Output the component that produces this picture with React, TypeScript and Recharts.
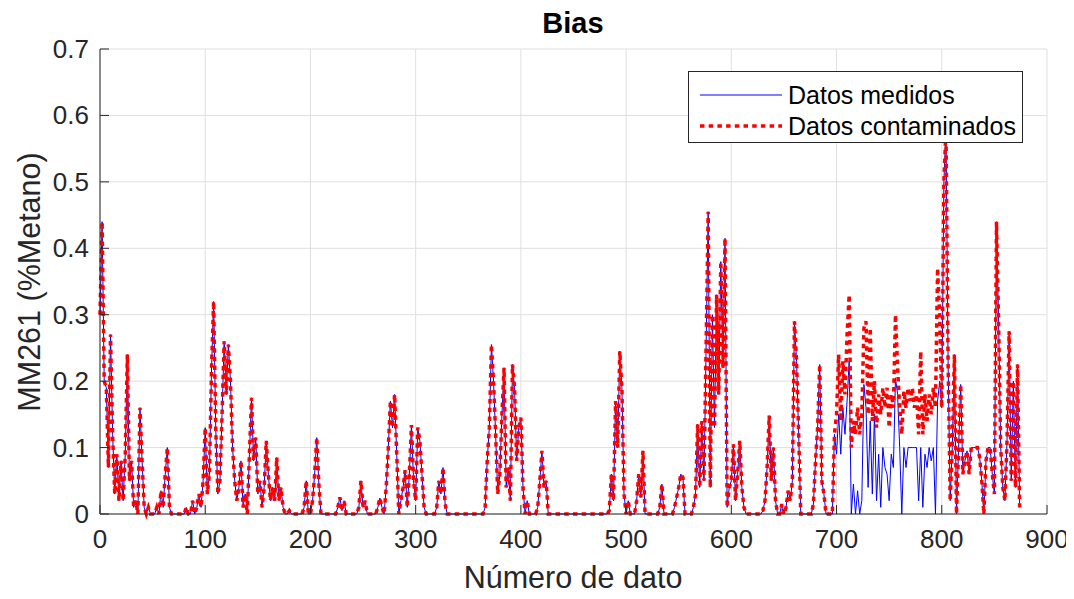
import React from 'react';
import { LineChart, Line, XAxis, YAxis, CartesianGrid, Legend } from 'recharts';

const xTicks = [0, 100, 200, 300, 400, 500, 600, 700, 800, 900];
const yTicks = [0, 0.1, 0.2, 0.3, 0.4, 0.5, 0.6, 0.7];
const titulo = 'Bias';
const etiquetaX = 'Número de dato';
const etiquetaY = 'MM261 (%Metano)';
const nombreMedidos = 'Datos medidos';
const nombreContaminados = 'Datos contaminados';

// data number step between stored samples
const PASO = 2;

// "Datos medidos": samples at data number 0, 2, 4, ... (rows of 10 = 20 data numbers)
const medidos = [
  0.3, 0.44, 0.2, 0.19, 0.07, 0.27, 0.12, 0.03, 0.09, 0.02,
  0.08, 0.02, 0.09, 0.24, 0.05, 0.08, 0.01, 0.02, 0.0, 0.16,
  0.08, 0.01, 0.0, 0.01, 0.0, 0.0, 0.0, 0.01, 0.0, 0.035,
  0.01, 0.06, 0.1, 0.01, 0.0, 0.0, 0.0, 0.0, 0.0, 0.0,
  0.0, 0.01, 0.0, 0.0, 0.02, 0.0, 0.01, 0.03, 0.01, 0.05,
  0.13, 0.03, 0.06, 0.22, 0.32, 0.13, 0.03, 0.05, 0.15, 0.26,
  0.18, 0.255, 0.2, 0.1, 0.05, 0.02, 0.04, 0.08, 0.01, 0.03,
  0.0, 0.09, 0.175, 0.08, 0.115, 0.03, 0.05, 0.01, 0.04, 0.11,
  0.06, 0.02, 0.04, 0.02, 0.085, 0.02, 0.04, 0.01, 0.0, 0.0,
  0.005, 0.0, 0.0, 0.0, 0.0, 0.0, 0.0, 0.01, 0.05, 0.0,
  0.0, 0.02, 0.06, 0.115, 0.045, 0.0, 0.0, 0.0, 0.0, 0.0,
  0.0, 0.0, 0.0, 0.01, 0.025, 0.005, 0.02, 0.0, 0.0, 0.0,
  0.0, 0.0, 0.0, 0.01, 0.05, 0.01, 0.02, 0.0, 0.0, 0.0,
  0.0, 0.0, 0.01, 0.024, 0.01, 0.0, 0.04, 0.1, 0.17, 0.13,
  0.18, 0.09, 0.0, 0.02, 0.04, 0.066, 0.01, 0.06, 0.134, 0.05,
  0.02, 0.13, 0.11, 0.06, 0.01, 0.0, 0.0, 0.0, 0.0, 0.0,
  0.01, 0.05, 0.03, 0.07, 0.015, 0.0, 0.0, 0.0, 0.0, 0.0,
  0.0, 0.0, 0.0, 0.0, 0.0, 0.0, 0.0, 0.0, 0.0, 0.0,
  0.0, 0.0, 0.0, 0.01, 0.08, 0.13, 0.255, 0.2, 0.12, 0.03,
  0.06, 0.15, 0.22, 0.04, 0.07, 0.02, 0.225, 0.19, 0.08, 0.13,
  0.145, 0.04, 0.0, 0.02, 0.0, 0.0, 0.0, 0.0, 0.01, 0.05,
  0.095, 0.04, 0.05, 0.0, 0.0, 0.0, 0.0, 0.0, 0.0, 0.0,
  0.0, 0.0, 0.0, 0.0, 0.0, 0.0, 0.0, 0.0, 0.0, 0.0,
  0.0, 0.0, 0.0, 0.0, 0.0, 0.0, 0.0, 0.0, 0.0, 0.0,
  0.0, 0.0, 0.005, 0.06, 0.02, 0.17, 0.1, 0.245, 0.19, 0.03,
  0.0, 0.02, 0.0, 0.0, 0.0, 0.02, 0.06, 0.025, 0.095, 0.0,
  0.0, 0.0, 0.0, 0.0, 0.0, 0.0, 0.01, 0.045, 0.0, 0.0,
  0.0, 0.0, 0.0, 0.01, 0.025, 0.04, 0.06, 0.055, 0.0, 0.0,
  0.0, 0.0, 0.01, 0.03, 0.135, 0.04, 0.14, 0.05, 0.25, 0.455,
  0.04, 0.3, 0.13, 0.33, 0.18, 0.38, 0.22, 0.415, 0.01, 0.04,
  0.05, 0.105, 0.02, 0.06, 0.11, 0.04, 0.01, 0.0, 0.0, 0.0,
  0.0, 0.0, 0.0, 0.0, 0.0, 0.005, 0.02, 0.07, 0.148, 0.05,
  0.1, 0.02, 0.0, 0.0, 0.015, 0.0, 0.01, 0.035, 0.02, 0.05,
  0.29, 0.23, 0.12, 0.0, 0.0, 0.0, 0.0, 0.0, 0.0, 0.015,
  0.08, 0.13, 0.225, 0.05, 0.03, 0.0, 0.0, 0.0, 0.0, 0.12,
  0.09, 0.15, 0.09, 0.16, 0.12, 0.17, 0.23, 0.0, 0.045, 0.0,
  0.035, 0.0, 0.02, 0.195, 0.16, 0.04, 0.14, 0.03, 0.15, 0.02,
  0.09, 0.01, 0.1, 0.07, 0.06, 0.02, 0.09, 0.07, 0.205, 0.18,
  0.1, 0.0, 0.1, 0.07, 0.1, 0.1, 0.1, 0.1, 0.1, 0.02,
  0.1, 0.01, 0.09, 0.07, 0.1, 0.08, 0.1, 0.0, 0.17, 0.2,
  0.16, 0.5, 0.58, 0.23, 0.02, 0.1, 0.24, 0.0, 0.1, 0.195,
  0.06, 0.08, 0.095, 0.06, 0.1, 0.1, 0.1, 0.1, 0.085, 0.05,
  0.0, 0.08, 0.1, 0.1, 0.06, 0.03, 0.44, 0.29, 0.1, 0.04,
  0.02, 0.11, 0.275, 0.05, 0.2, 0.04, 0.225, 0.01,
];

// "Datos contaminados" differs from the measured data only in this stretch
const tramoInicio = 700;
const contaminadosTramo = [
  0.15, 0.24, 0.14, 0.23, 0.18, 0.27, 0.33, 0.1, 0.14, 0.12,
  0.16, 0.12, 0.15, 0.28, 0.29, 0.15, 0.28, 0.14, 0.2, 0.13,
  0.18, 0.15, 0.19, 0.16, 0.19, 0.13, 0.18, 0.16, 0.3, 0.22,
  0.16, 0.12, 0.185, 0.16, 0.19, 0.17, 0.19, 0.16, 0.18, 0.12,
  0.245, 0.12, 0.18, 0.14, 0.18, 0.15, 0.19, 0.16, 0.37, 0.3,
];

const data = medidos.map((v, i) => {
  const x = i * PASO;
  const k = (x - tramoInicio) / PASO;
  const c = k >= 0 && k < contaminadosTramo.length ? contaminadosTramo[k] : v;
  return { x, medidos: v, contaminados: c };
});

const AX = '#262626';
const GRID = '#dfdfdf';
const FONT = '"Liberation Sans", Arial, Helvetica, sans-serif';
const TICK = 9;

const BottomTick = (props: any) => {
  const { x, y, payload } = props;
  return (
    <g>
      <line x1={x} y1={y} x2={x} y2={y - TICK} stroke={AX} strokeWidth={1} />
      <text x={x} y={y + 34} textAnchor="middle" fill={AX} fontSize={26} fontFamily={FONT}>
        {String(payload.value)}
      </text>
    </g>
  );
};

const TopTick = (props: any) => {
  const { x, y } = props;
  return <line x1={x} y1={y} x2={x} y2={y + TICK} stroke={AX} strokeWidth={1} />;
};

const LeftTick = (props: any) => {
  const { x, y, payload } = props;
  return (
    <g>
      <line x1={x} y1={y} x2={x + TICK} y2={y} stroke={AX} strokeWidth={1} />
      <text x={x - 11} y={y + 9} textAnchor="end" fill={AX} fontSize={26} fontFamily={FONT}>
        {String(payload.value)}
      </text>
    </g>
  );
};

const RightTick = (props: any) => {
  const { x, y } = props;
  return <line x1={x} y1={y} x2={x - TICK} y2={y} stroke={AX} strokeWidth={1} />;
};

const LegendBox = () => (
  <svg width={335} height={72} style={{ display: 'block' }}>
    <rect x={0.5} y={0.5} width={334} height={71} fill="#ffffff" stroke={AX} strokeWidth={1} />
    <line x1={12} y1={24} x2={94} y2={24} stroke="#0000ff" strokeWidth={1} />
    <line x1={12} y1={55} x2={94} y2={55} stroke="#ff0000" strokeWidth={3.5} strokeDasharray="4.5 4.2" />
    <text x={100} y={33} fill="#000" fontSize={25} fontFamily={FONT}>{nombreMedidos}</text>
    <text x={100} y={64} fill="#000" fontSize={25} fontFamily={FONT}>{nombreContaminados}</text>
  </svg>
);

export default function App() {
  return (
    <div style={{ width: 1066, height: 591, fontFamily: FONT, background: '#fff' }}>
      <LineChart
        width={1066}
        height={591}
        data={data}
        margin={{ top: 41, right: 27, bottom: 0, left: 0 }}
      >
        <CartesianGrid stroke={GRID} strokeWidth={1} horizontalValues={yTicks} verticalValues={xTicks} />
        <XAxis
          dataKey="x"
          type="number"
          domain={[0, 900]}
          ticks={xTicks}
          interval={0}
          height={85}
          tickSize={0}
          tickMargin={0}
          axisLine={{ stroke: AX, strokeWidth: 1 }}
          tick={BottomTick}
          label={{
            content: () => (
              <text x={565} y={580} textAnchor="middle" fill={AX} fontSize={30.5} fontFamily={FONT}>
                {etiquetaX}
              </text>
            ),
          }}
        />
        <XAxis
          xAxisId="top"
          orientation="top"
          dataKey="x"
          type="number"
          domain={[0, 900]}
          ticks={xTicks}
          interval={0}
          height={0}
          tickSize={0}
          tickMargin={0}
          axisLine={{ stroke: AX, strokeWidth: 1 }}
          tick={TopTick}
        />
        <YAxis
          type="number"
          domain={[0, 0.7]}
          ticks={yTicks}
          interval={0}
          width={92}
          tickSize={0}
          tickMargin={0}
          axisLine={{ stroke: AX, strokeWidth: 1 }}
          tick={LeftTick}
          label={{
            content: () => (
              <g>
                <text x={565} y={25} textAnchor="middle" fill="#000" fontSize={29} fontWeight="bold" fontFamily={FONT}>
                  {titulo}
                </text>
                <text
                  x={32}
                  y={274}
                  transform="rotate(-90 32 274)"
                  textAnchor="middle"
                  fill={AX}
                  fontSize={30.5}
                  fontFamily={FONT}
                >
                  {etiquetaY}
                </text>
              </g>
            ),
          }}
        />
        <YAxis
          yAxisId="right"
          orientation="right"
          type="number"
          domain={[0, 0.7]}
          ticks={yTicks}
          interval={0}
          width={0}
          tickSize={0}
          tickMargin={0}
          axisLine={{ stroke: AX, strokeWidth: 1 }}
          tick={RightTick}
        />
        <Line
          type="linear"
          dataKey="medidos"
          name={nombreMedidos}
          stroke="#0000ff"
          strokeWidth={1}
          dot={false}
          activeDot={false}
          isAnimationActive={false}
        />
        <Line
          type="linear"
          dataKey="contaminados"
          name={nombreContaminados}
          stroke="#ff0000"
          strokeWidth={3.5}
          strokeDasharray="4.5 4.2"
          dot={false}
          activeDot={false}
          isAnimationActive={false}
        />
        <Legend
          layout="horizontal"
          verticalAlign="middle"
          align="center"
          wrapperStyle={{ position: 'absolute', left: 680, top: 63, width: 335, height: 72 }}
          content={LegendBox}
        />
      </LineChart>
    </div>
  );
}
